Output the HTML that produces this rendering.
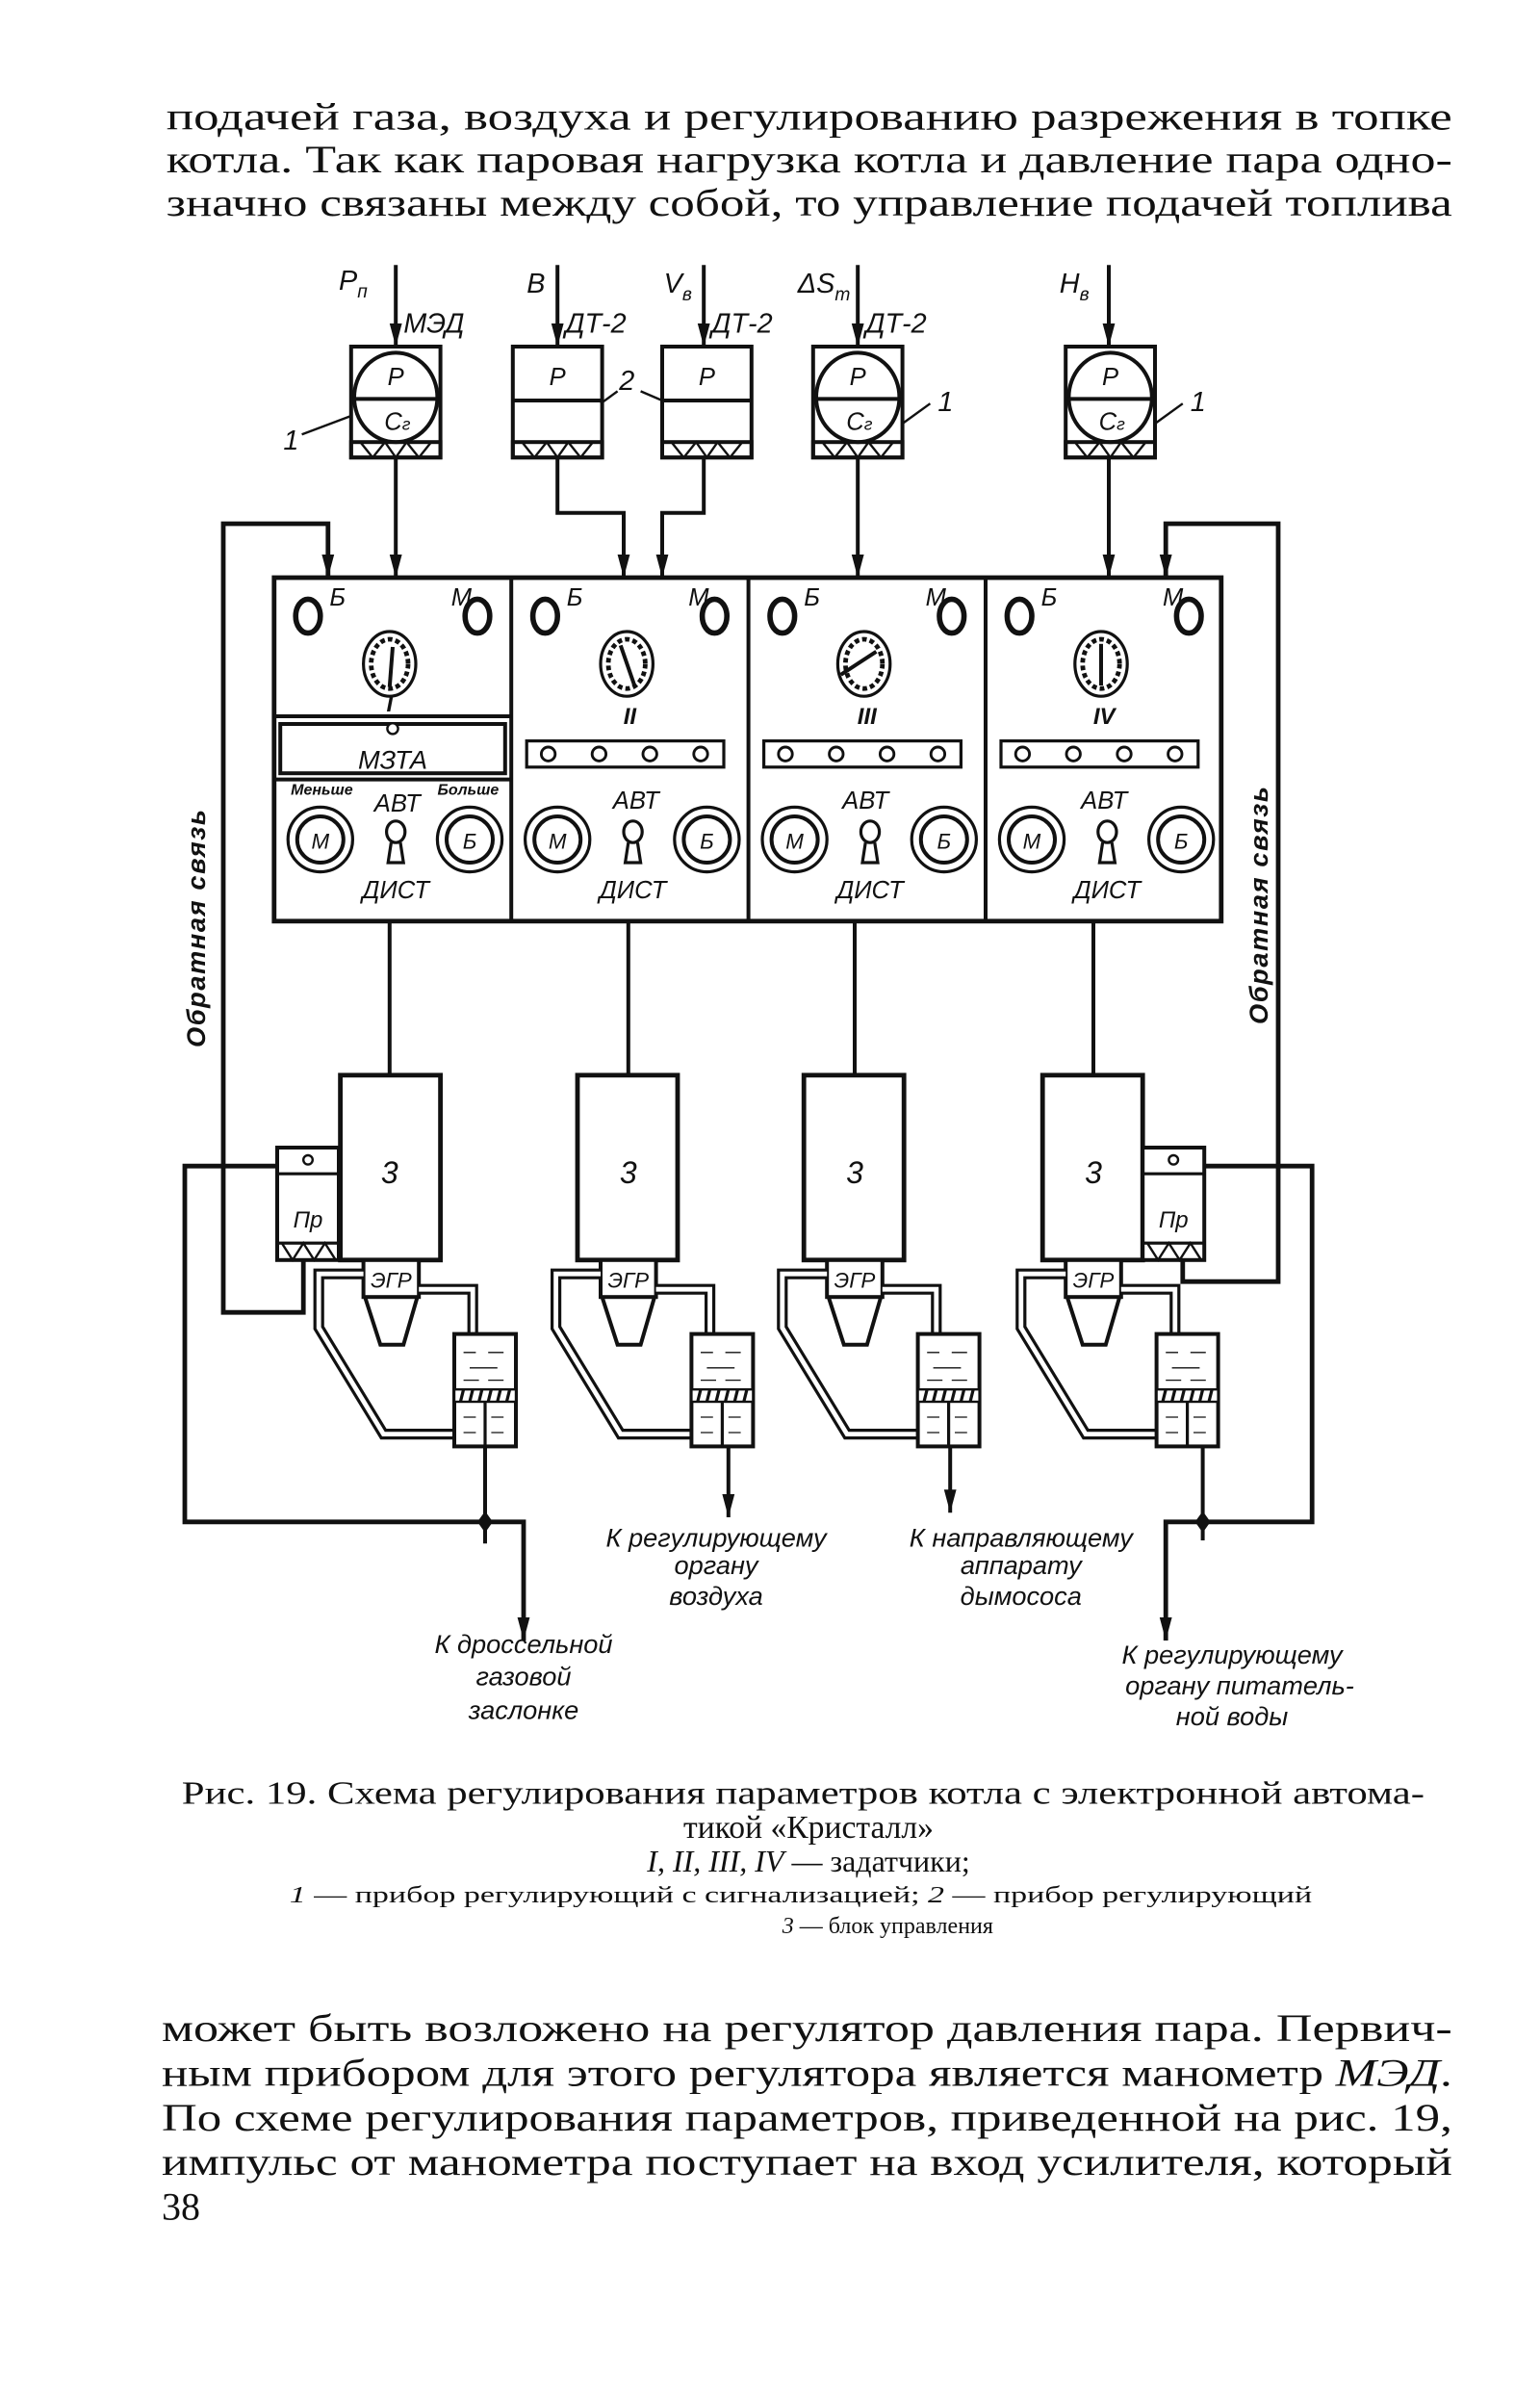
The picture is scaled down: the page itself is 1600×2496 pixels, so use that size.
<!DOCTYPE html>
<html><head><meta charset="utf-8"><style>
html,body{margin:0;padding:0;background:#fff}
svg{display:block}
.b{font-family:"Liberation Serif","DejaVu Serif",serif;font-size:25px;fill:#111}
.c{font-family:"Liberation Serif","DejaVu Serif",serif;fill:#111}
.l{font-family:"Liberation Sans","DejaVu Sans",sans-serif;font-style:italic;fill:#111}
</style></head><body>
<svg width="1600" height="2496" viewBox="0 0 1000 1560" xmlns="http://www.w3.org/2000/svg">
<defs>
<marker id="ar" markerWidth="16" markerHeight="10" refX="15" refY="5" orient="auto" markerUnits="userSpaceOnUse">
<path d="M0,1 L15,5 L0,9 Z" fill="#111"/></marker>
<g id="strip">
<rect x="0" y="62" width="58" height="10" fill="none" stroke="#111" stroke-width="2.5"/>
<path d="M6,62 L14,72 L22,62 L29,72 L36,62 L44,72 L52,62" fill="none" stroke="#111" stroke-width="1.5"/>
</g>
<g id="s1">
<rect x="0" y="0" width="58" height="72" fill="#fff" stroke="#111" stroke-width="2.5"/>
<ellipse cx="29" cy="33" rx="27" ry="29" fill="none" stroke="#111" stroke-width="2.5"/>
<line x1="1" y1="34" x2="57" y2="34" stroke="#111" stroke-width="2.5"/>
<use href="#strip"/>
</g>
<g id="s2">
<rect x="0" y="0" width="58" height="72" fill="#fff" stroke="#111" stroke-width="2.5"/>
<line x1="0" y1="35" x2="58" y2="35" stroke="#111" stroke-width="2.5"/>
<use href="#strip"/>
</g>
<g id="top">
<ellipse cx="22" cy="400" rx="8" ry="11" fill="none" stroke="#111" stroke-width="3.5"/>
<ellipse cx="132" cy="400" rx="8" ry="11" fill="none" stroke="#111" stroke-width="3.5"/>
<ellipse cx="75" cy="431" rx="17" ry="21" fill="none" stroke="#111" stroke-width="2"/>
<ellipse cx="75" cy="431" rx="12" ry="16" fill="none" stroke="#111" stroke-width="3" stroke-dasharray="3,2"/>
</g>
<g id="btns">
<circle cx="30" cy="545" r="21" fill="none" stroke="#111" stroke-width="2"/>
<circle cx="30" cy="545" r="15" fill="none" stroke="#111" stroke-width="2.5"/>
<circle cx="127" cy="545" r="21" fill="none" stroke="#111" stroke-width="2"/>
<circle cx="127" cy="545" r="15" fill="none" stroke="#111" stroke-width="2.5"/>
<ellipse cx="79" cy="540" rx="6" ry="7" fill="none" stroke="#111" stroke-width="2"/>
<path d="M76,547 L74,560 L84,560 L82,547" fill="none" stroke="#111" stroke-width="2"/>
</g>
<g id="dots">
<rect x="10" y="481" width="128" height="17" fill="none" stroke="#111" stroke-width="2"/>
<circle cx="24" cy="489.5" r="4.5" fill="none" stroke="#111" stroke-width="1.8"/>
<circle cx="57" cy="489.5" r="4.5" fill="none" stroke="#111" stroke-width="1.8"/>
<circle cx="90" cy="489.5" r="4.5" fill="none" stroke="#111" stroke-width="1.8"/>
<circle cx="123" cy="489.5" r="4.5" fill="none" stroke="#111" stroke-width="1.8"/>
</g>
<g id="unit">
<rect x="0" y="698" width="65" height="120" fill="#fff" stroke="#111" stroke-width="3"/>
<rect x="15" y="818" width="36" height="24" fill="#fff" stroke="#111" stroke-width="2.5"/>
<path d="M16,842 L26,873 L41,873 L50,842" fill="none" stroke="#111" stroke-width="2.5"/>
<path d="M15,827 L-14,827 L-14,862 L28,931 L74,931" fill="none" stroke="#111" stroke-width="7"/>
<path d="M15,827 L-14,827 L-14,862 L28,931 L74,931" fill="none" stroke="#fff" stroke-width="3"/>
<path d="M51,837 L86,837 L86,866" fill="none" stroke="#111" stroke-width="7"/>
<path d="M51,837 L86,837 L86,866" fill="none" stroke="#fff" stroke-width="3"/>
<rect x="74" y="866" width="40" height="73" fill="#fff" stroke="#111" stroke-width="2.5"/>
<rect x="74" y="902" width="40" height="8" fill="#fff" stroke="#111" stroke-width="1.5"/>
<path d="M78,910 L80,902 M84,910 L86,902 M90,910 L92,902 M96,910 L98,902 M102,910 L104,902 M108,910 L110,902" stroke="#111" stroke-width="2"/>
<line x1="94" y1="910" x2="94" y2="939" stroke="#111" stroke-width="2"/>
<path d="M80,878 h8 M96,878 h10 M84,888 h18 M80,896 h10 M96,896 h10 M80,920 h8 M98,920 h8 M80,930 h8 M98,930 h8" stroke="#111" stroke-width="0.8"/>
</g>
<g id="pr">
<rect x="0" y="745" width="40" height="73" fill="#fff" stroke="#111" stroke-width="2.5"/>
<line x1="0" y1="762" x2="40" y2="762" stroke="#111" stroke-width="2"/>
<rect x="0" y="807" width="40" height="11" fill="none" stroke="#111" stroke-width="2"/>
<path d="M3,807 L10,818 L17,807 L24,818 L31,807 L38,818" fill="none" stroke="#111" stroke-width="1.5"/>
<circle cx="20" cy="753" r="3" fill="none" stroke="#111" stroke-width="1.5"/>
</g>
</defs>

<text class="b" x="108" y="84" textLength="835" lengthAdjust="spacingAndGlyphs">подачей газа, воздуха и регулированию разрежения в топке</text>
<text class="b" x="108" y="112" textLength="835" lengthAdjust="spacingAndGlyphs">котла. Так как паровая нагрузка котла и давление пара одно-</text>
<text class="b" x="108" y="140" textLength="835" lengthAdjust="spacingAndGlyphs">значно связаны между собой, то управление подачей топлива</text>

<g stroke="#111" stroke-width="2.5" fill="none">
<line x1="257" y1="172" x2="257" y2="225" marker-end="url(#ar)"/>
<line x1="362" y1="172" x2="362" y2="225" marker-end="url(#ar)"/>
<line x1="457" y1="172" x2="457" y2="225" marker-end="url(#ar)"/>
<line x1="557" y1="172" x2="557" y2="225" marker-end="url(#ar)"/>
<line x1="720" y1="172" x2="720" y2="225" marker-end="url(#ar)"/>
<line x1="257" y1="297" x2="257" y2="375" marker-end="url(#ar)"/>
<polyline points="362,297 362,333 405,333 405,375" marker-end="url(#ar)"/>
<polyline points="457,297 457,333 430,333 430,375" marker-end="url(#ar)"/>
<line x1="557" y1="297" x2="557" y2="375" marker-end="url(#ar)"/>
<line x1="720" y1="297" x2="720" y2="375" marker-end="url(#ar)"/>
<polyline points="213,375 213,340 145,340 145,852 197,852 197,818" stroke-width="3"/>
<polyline points="757,375 757,340 830,340 830,832 768,832 768,818" stroke-width="3"/>
<line x1="757" y1="345" x2="757" y2="375" marker-end="url(#ar)"/>
<line x1="213" y1="345" x2="213" y2="375" marker-end="url(#ar)"/>
<line x1="253" y1="598" x2="253" y2="698"/>
<line x1="408" y1="598" x2="408" y2="698"/>
<line x1="555" y1="598" x2="555" y2="698"/>
<line x1="710" y1="598" x2="710" y2="698"/>
<polyline points="180,757 120,757 120,988 340,988 340,1065" stroke-width="3" marker-end="url(#ar)"/>
<line x1="315" y1="939" x2="315" y2="1002"/>
<line x1="473" y1="939" x2="473" y2="985" marker-end="url(#ar)"/>
<line x1="617" y1="939" x2="617" y2="982" marker-end="url(#ar)"/>
<polyline points="782,757 852,757 852,988 757,988 757,1065" stroke-width="3" marker-end="url(#ar)"/>
<line x1="781" y1="939" x2="781" y2="1000"/>
</g>
<path d="M315,981 L320,988 L315,995 L310,988 Z" fill="#111"/>
<path d="M781,981 L786,988 L781,995 L776,988 Z" fill="#111"/>

<use href="#s1" x="228" y="225"/>
<use href="#s2" x="333" y="225"/>
<use href="#s2" x="430" y="225"/>
<use href="#s1" x="528" y="225"/>
<use href="#s1" x="692" y="225"/>
<g class="l" font-size="16" text-anchor="middle">
<text x="257" y="250">P</text><text x="258" y="279">C<tspan font-size="11">г</tspan></text>
<text x="362" y="250">P</text><text x="459" y="250">P</text>
<text x="557" y="250">P</text><text x="558" y="279">C<tspan font-size="11">г</tspan></text>
<text x="721" y="250">P</text><text x="722" y="279">C<tspan font-size="11">г</tspan></text>
</g>
<g class="l" font-size="18">
<text x="220" y="188">P<tspan font-size="12" dy="5">п</tspan></text>
<text x="262" y="216">МЭД</text>
<text x="342" y="190">В</text>
<text x="367" y="216">ДТ-2</text>
<text x="431" y="190">V<tspan font-size="12" dy="5">в</tspan></text>
<text x="462" y="216">ДТ-2</text>
<text x="518" y="190">ΔS<tspan font-size="12" dy="5">т</tspan></text>
<text x="562" y="216">ДТ-2</text>
<text x="688" y="190">H<tspan font-size="12" dy="5">в</tspan></text>
<text x="184" y="292">1</text>
<text x="402" y="253">2</text>
<text x="609" y="267">1</text>
<text x="773" y="267">1</text>
</g>
<g stroke="#111" stroke-width="1.5">
<line x1="196" y1="282" x2="228" y2="270"/>
<line x1="390" y1="262" x2="401" y2="254"/>
<line x1="416" y1="254" x2="430" y2="260"/>
<line x1="586" y1="275" x2="604" y2="262"/>
<line x1="750" y1="275" x2="768" y2="262"/>
</g>

<rect x="178" y="375" width="615" height="223" fill="#fff" stroke="#111" stroke-width="3"/>
<g stroke="#111" stroke-width="2.5">
<line x1="332" y1="375" x2="332" y2="598"/>
<line x1="486" y1="375" x2="486" y2="598"/>
<line x1="640" y1="375" x2="640" y2="598"/>
<line x1="178" y1="465" x2="332" y2="465"/>
<line x1="178" y1="506" x2="332" y2="506"/>
</g>
<rect x="182" y="470" width="146" height="32" fill="none" stroke="#111" stroke-width="2.5"/>
<circle cx="255" cy="473" r="3.5" fill="#fff" stroke="#111" stroke-width="1.5"/>
<use href="#top" x="178"/><use href="#top" x="332"/><use href="#top" x="486"/><use href="#top" x="640"/>
<use href="#btns" x="178"/><use href="#btns" x="332"/><use href="#btns" x="486"/><use href="#btns" x="640"/>
<use href="#dots" x="332"/><use href="#dots" x="486"/><use href="#dots" x="640"/>
<g stroke="#111" stroke-width="2.5">
<line x1="253" y1="446" x2="255" y2="420"/>
<line x1="412" y1="445" x2="403" y2="419"/>
<line x1="546" y1="438" x2="569" y2="423"/>
<line x1="715" y1="445" x2="715" y2="418"/>
</g>
<g class="l" font-size="16">
<text x="214" y="393">Б</text><text x="293" y="393">М</text>
<text x="368" y="393">Б</text><text x="447" y="393">М</text>
<text x="522" y="393">Б</text><text x="601" y="393">М</text>
<text x="676" y="393">Б</text><text x="755" y="393">М</text>
</g>
<g class="l" font-size="15" text-anchor="middle" font-weight="bold">
<text x="253" y="462">I</text><text x="409" y="470">II</text><text x="563" y="470">III</text><text x="717" y="470">IV</text>
</g>
<text class="l" x="255" y="499" font-size="17" text-anchor="middle">МЗТА</text>
<g class="l" font-size="10" font-weight="bold" text-anchor="middle">
<text x="209" y="516">Меньше</text><text x="304" y="516">Больше</text>
</g>
<g class="l" font-size="16" text-anchor="middle">
<text x="258" y="527">АВТ</text><text x="413" y="525">АВТ</text><text x="562" y="525">АВТ</text><text x="717" y="525">АВТ</text>
<text x="257" y="583">ДИСТ</text><text x="411" y="583">ДИСТ</text><text x="565" y="583">ДИСТ</text><text x="719" y="583">ДИСТ</text>
<text x="208" y="551" font-size="14">М</text><text x="305" y="551" font-size="14">Б</text>
<text x="362" y="551" font-size="14">М</text><text x="459" y="551" font-size="14">Б</text>
<text x="516" y="551" font-size="14">М</text><text x="613" y="551" font-size="14">Б</text>
<text x="670" y="551" font-size="14">М</text><text x="767" y="551" font-size="14">Б</text>
</g>
<text class="l" font-size="17" font-weight="bold" transform="translate(133,680) rotate(-90)" letter-spacing="1">Обратная связь</text>
<text class="l" font-size="17" font-weight="bold" transform="translate(823,665) rotate(-90)" letter-spacing="1">Обратная связь</text>

<use href="#unit" x="221"/><use href="#unit" x="375"/><use href="#unit" x="522"/><use href="#unit" x="677"/>
<use href="#pr" x="180"/><use href="#pr" x="742"/>
<g class="l" font-size="20" text-anchor="middle">
<text x="253" y="768">3</text><text x="408" y="768">3</text><text x="555" y="768">3</text><text x="710" y="768">3</text>
</g>
<g class="l" font-size="14" text-anchor="middle">
<text x="254" y="836">ЭГР</text><text x="408" y="836">ЭГР</text><text x="555" y="836">ЭГР</text><text x="710" y="836">ЭГР</text>
<text x="200" y="797" font-size="15">Пр</text><text x="762" y="797" font-size="15">Пр</text>
</g>
<g class="l" font-size="17" text-anchor="middle">
<text x="340" y="1073">К дроссельной</text><text x="340" y="1094">газовой</text><text x="340" y="1116">заслонке</text>
<text x="465" y="1004">К регулирующему</text><text x="465" y="1022">органу</text><text x="465" y="1042">воздуха</text>
<text x="663" y="1004">К направляющему</text><text x="663" y="1022">аппарату</text><text x="663" y="1042">дымососа</text>
<text x="800" y="1080">К регулирующему</text><text x="805" y="1100">органу питатель-</text><text x="800" y="1120">ной воды</text>
</g>

<text class="c" x="118" y="1171" font-size="21" textLength="807" lengthAdjust="spacingAndGlyphs">Рис. 19. Схема регулирования параметров котла с электронной автома-</text>
<text class="c" x="525" y="1193" font-size="21" text-anchor="middle">тикой «Кристалл»</text>
<text class="c" x="525" y="1215" font-size="20" text-anchor="middle"><tspan font-style="italic">I, II, III, IV</tspan> — задатчики;</text>
<text class="c" x="188" y="1235" font-size="15" textLength="664" lengthAdjust="spacingAndGlyphs"><tspan font-style="italic">1</tspan> — прибор  регулирующий  с  сигнализацией; <tspan font-style="italic">2</tspan> — прибор  регулирующий</text>
<text class="c" x="508" y="1255" font-size="15"><tspan font-style="italic">3</tspan> — блок управления</text>

<text class="b" x="105" y="1325" textLength="838" lengthAdjust="spacingAndGlyphs">может быть возложено на регулятор давления пара. Первич-</text>
<text class="b" x="105" y="1354" textLength="838" lengthAdjust="spacingAndGlyphs">ным прибором для этого регулятора является манометр <tspan font-style="italic">МЭД</tspan>.</text>
<text class="b" x="105" y="1383" textLength="838" lengthAdjust="spacingAndGlyphs">По схеме регулирования параметров, приведенной на рис. 19,</text>
<text class="b" x="105" y="1412" textLength="838" lengthAdjust="spacingAndGlyphs">импульс от манометра поступает на вход усилителя, который</text>
<text class="b" x="105" y="1441">38</text>
</svg>
</body></html>
